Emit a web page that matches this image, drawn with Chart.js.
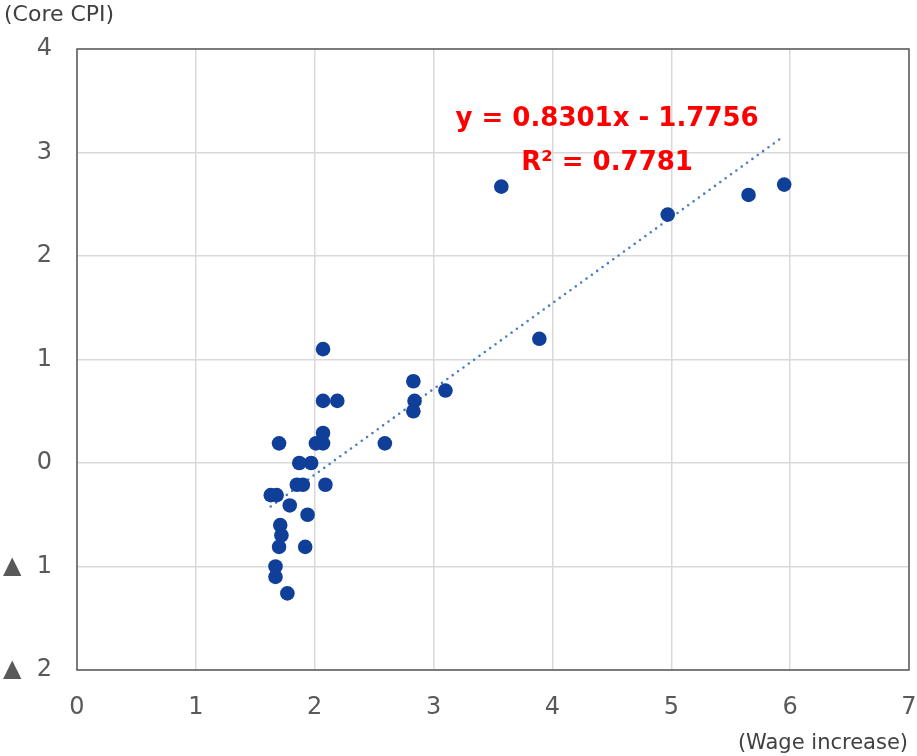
<!DOCTYPE html>
<html>
<head>
<meta charset="utf-8">
<script src="https://cdn.jsdelivr.net/npm/chart.js@4"></script>
<style>
  html, body { margin: 0; padding: 0; background: #fff; }
  #wrap { width: 917px; height: 756px; }
</style>
</head>
<body>
<div id="wrap"><canvas id="myScatter" width="917" height="756"></canvas></div>
<script>
// Data (wage increase vs core CPI, %)
const wageIncrease = [3.57, 3.89, 4.97, 5.65, 5.95, 2.07, 2.07, 2.19, 2.83, 2.84, 2.83, 3.10,
  2.59, 2.07, 2.07, 2.01, 1.70, 1.87, 1.97, 1.85, 1.90, 2.09, 1.63, 1.68, 1.79, 1.94,
  1.71, 1.72, 1.70, 1.92, 1.67, 1.67, 1.77];
const coreCpi = [2.67, 1.20, 2.40, 2.59, 2.69, 1.10, 0.60, 0.60, 0.79, 0.60, 0.50, 0.70,
  0.19, 0.29, 0.19, 0.19, 0.19, 0.00, 0.00, -0.21, -0.21, -0.21, -0.31, -0.31, -0.41, -0.50,
  -0.60, -0.70, -0.81, -0.81, -1.00, -1.10, -1.26];

// Linear trendline end points (y = 0.8301x - 1.7756)
const trendX = [1.63, 5.95];
const trendY = [-0.42, 3.16];

const xTickLabels = ['0', '1', '2', '3', '4', '5', '6', '7'];
const yTickLabels = ['▲  2', '▲  1', '0', '1', '2', '3', '4'];

const equationText = 'y = 0.8301x - 1.7756';
const r2Text = 'R² = 0.7781';

const fontName = '"DejaVu Sans", Verdana, sans-serif';

// Rahmen, Achsentitel und Gleichung
const extras = {
  id: 'extras',
  beforeDatasetsDraw(chart) {
    const { ctx, chartArea: a } = chart;
    ctx.save();
    ctx.strokeStyle = '#595959';
    ctx.lineWidth = 1.5;
    ctx.strokeRect(a.left, a.top, a.right - a.left, a.bottom - a.top);
    ctx.restore();
  },
  afterDatasetsDraw(chart) {
    const { ctx } = chart;
    const xs = chart.scales.x;
    const ys = chart.scales.y;
    ctx.save();
    ctx.fillStyle = '#404040';
    ctx.font = '22px ' + fontName;
    ctx.textBaseline = 'middle';
    ctx.textAlign = 'left';
    ctx.fillText('(Core CPI)', 4, 15);
    ctx.font = '21px ' + fontName;
    ctx.textAlign = 'right';
    ctx.fillText('(Wage increase)', 908, 744);

    ctx.fillStyle = '#ff0000';
    ctx.font = 'bold 26px ' + fontName;
    ctx.textAlign = 'center';
    ctx.fillText(equationText, xs.getPixelForValue(4.46), ys.getPixelForValue(3.32));
    ctx.fillText(r2Text, xs.getPixelForValue(4.46), ys.getPixelForValue(2.9));
    ctx.restore();
  }
};

window.onload = function () {
  const points = wageIncrease.map((v, i) => ({ x: v, y: coreCpi[i] }));
  const trend = trendX.map((v, i) => ({ x: v, y: trendY[i] }));

  const ctx = document.getElementById('myScatter').getContext('2d');
  new Chart(ctx, {
    type: 'scatter',
    data: {
      datasets: [{
        label: 'Core CPI',
        data: points,
        backgroundColor: '#0f3f99',
        borderWidth: 0,
        pointRadius: 7.3,
        order: 1
      }, {
        type: 'line',
        label: 'Trend',
        data: trend,
        borderColor: '#4a7ebb',
        borderWidth: 2.6,
        borderDash: [0, 6.6],
        borderCapStyle: 'round',
        pointRadius: 0,
        fill: false,
        order: 2
      }]
    },
    plugins: [extras],
    options: {
      responsive: false,
      animation: false,
      layout: { padding: { top: 49, right: 8, left: 0, bottom: 0 } },
      plugins: {
        legend: { display: false },
        tooltip: { enabled: false }
      },
      scales: {
        x: {
          type: 'linear',
          min: 0,
          max: 7,
          afterFit: (s) => { s.height = 86; s.paddingRight = 0; s.paddingLeft = 0; },
          grid: { color: '#d9d9d9', lineWidth: 1.5, drawTicks: false },
          border: { display: false },
          ticks: {
            stepSize: 1,
            padding: 23,
            color: '#595959',
            font: { family: fontName, size: 24 },
            callback: (v) => xTickLabels[v]
          }
        },
        y: {
          type: 'linear',
          min: -2,
          max: 4,
          afterFit: (s) => { s.width = 77; s.paddingTop = 0; s.paddingBottom = 0; },
          grid: { color: '#d9d9d9', lineWidth: 1.5, drawTicks: false },
          border: { display: false },
          ticks: {
            stepSize: 1,
            padding: 25,
            color: '#595959',
            font: { family: fontName, size: 24 },
            callback: (v) => yTickLabels[v + 2]
          }
        }
      }
    }
  });
};
</script>
</body>
</html>
